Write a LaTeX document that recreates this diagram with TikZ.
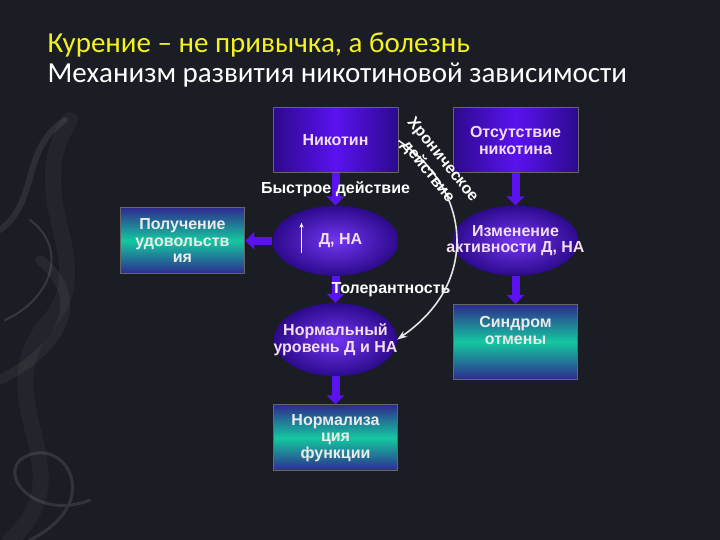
\documentclass[tikz,border=0pt]{standalone}
\usepackage{fontspec}
\setmainfont{Liberation Sans}
\newfontfamily\zagfont{Carlito}
\usetikzlibrary{positioning,arrows.meta,shapes.geometric,calc}
\definecolor{cfon}{HTML}{1B1D24}
\definecolor{cfiolet}{HTML}{5A12F0}
\definecolor{cfioletd}{HTML}{2C0A8C}
\definecolor{cbiruza}{HTML}{14C8A0}
\definecolor{csinij}{HTML}{2E2A8E}
\definecolor{czholt}{HTML}{F2F21E}
\definecolor{ctekst}{HTML}{F4DDF4}
\tikzset{
  blok/.style={rectangle, draw=black!60, line width=1pt, left color=cfioletd,
    right color=cfioletd, middle color=cfiolet, minimum width=125pt,
    minimum height=65pt, text width=118pt, align=center, text=ctekst,
    font=\bfseries\fontsize{16}{16.5}\selectfont},
  blokb/.style={rectangle, draw=black!60, line width=1pt, top color=csinij,
    bottom color=csinij, middle color=cbiruza, minimum width=124pt,
    minimum height=66pt, text width=118pt, align=center, text=white!92!black,
    font=\bfseries\fontsize{16}{16.5}\selectfont},
  oval/.style={ellipse, inner sep=0pt, minimum width=126pt, minimum height=70pt,
    inner color=cfiolet!85!white, outer color=cfioletd, text=ctekst,
    font=\bfseries\fontsize{16}{16.5}\selectfont},
  ovtxt/.style={align=center, text=ctekst, font=\bfseries\fontsize{16}{16.5}\selectfont},
  strelka/.style={-{Triangle[width=17pt,length=9pt]}, line width=8pt, draw=cfiolet},
  dolgaja/.style={-{Stealth[length=10pt,width=7pt]}, line width=1.6pt, draw=white!90!black},
  podpis/.style={font=\bfseries\fontsize{16}{19}\selectfont, text=white, inner sep=0pt},
}
\begin{document}
\begin{tikzpicture}[x=1pt,y=-1pt]
  \fill[cfon] (0,0) rectangle (720,540);
  \useasboundingbox (0,0) rectangle (720,540);
  % dym
  \begin{scope}[white, line cap=round]
    \draw[line width=16pt, opacity=.04] (10,540) .. controls (90,470) and (-20,400) .. (50,320) .. controls (100,260) and (20,200) .. (70,120);
    \draw[line width=6pt, opacity=.08] (0,230) .. controls (40,200) and (20,150) .. (65,120);
    \draw[line width=3pt, opacity=.1] (30,540) .. controls (110,500) and (60,430) .. (20,460) .. controls (0,480) and (40,520) .. (90,500);
    \draw[line width=10pt, opacity=.05] (0,380) .. controls (60,350) and (90,300) .. (40,260);
    \draw[line width=2pt, opacity=.12] (5,320) .. controls (50,300) and (70,250) .. (30,220);
  \end{scope}
  \node[anchor=base west, text=czholt, font=\zagfont\fontsize{29}{30}\selectfont] (zag1) at (44,53)
    {Курение – не привычка, а болезнь};
  \node[anchor=base west, text=white, font=\zagfont\fontsize{29}{30}\selectfont] (zag2) at (44,83)
    {Механизм развития никотиновой зависимости};
  \node[blok] (nik) at (335.5,140.5) {Никотин};
  \node[blok, right=54pt of nik] (otsut) {Отсутствие\\никотина};
  \node[oval, below=32pt of nik] (dna) {\hspace*{10pt}Д, НА};
  \node[oval, below=32pt of otsut, label={[ovtxt]center:Изменение\\активности Д, НА}] (izm) {};
  \node[blokb, left=27pt of dna] (udov) {Получение\\удовольств\\ия};
  \node[oval, below=27pt of dna, minimum width=123pt, minimum height=73pt,
    label={[ovtxt]center:Нормальный\\уровень Д и НА}] (norm) {};
  \node[blokb, below=28pt of norm] (normf) {Нормализа\\ция\\функции};
  \node[blokb, below=28pt of izm, minimum height=75pt] (sindr) {Синдром\\отмены\\[6pt]\mbox{}};
  \draw[strelka] (nik) -- (dna) node[midway, podpis]{Быстрое действие};
  \draw[strelka] (otsut) -- (izm);
  \draw[strelka] (dna) -- (udov);
  \draw[strelka] (dna) -- (norm) node[midway, anchor=west, xshift=-8pt, podpis]{Толерантность};
  \draw[strelka] (norm) -- (normf);
  \draw[strelka] (izm) -- (sindr);
  \draw[white, line width=1.2pt, -{Stealth[length=5pt,width=4pt]}]
    ($(dna.center)+(-34,12)$) -- ($(dna.center)+(-34,-18)$);
  \draw[dolgaja] (nik.east) .. controls (440,168) and (462,212) .. (456,255)
    .. controls (451,292) and (428,318) .. (norm.east);
  \node[podpis, rotate=-51, align=center] (hron) at (435,166) {Хроническое\\действие};
\end{tikzpicture}
\end{document}
